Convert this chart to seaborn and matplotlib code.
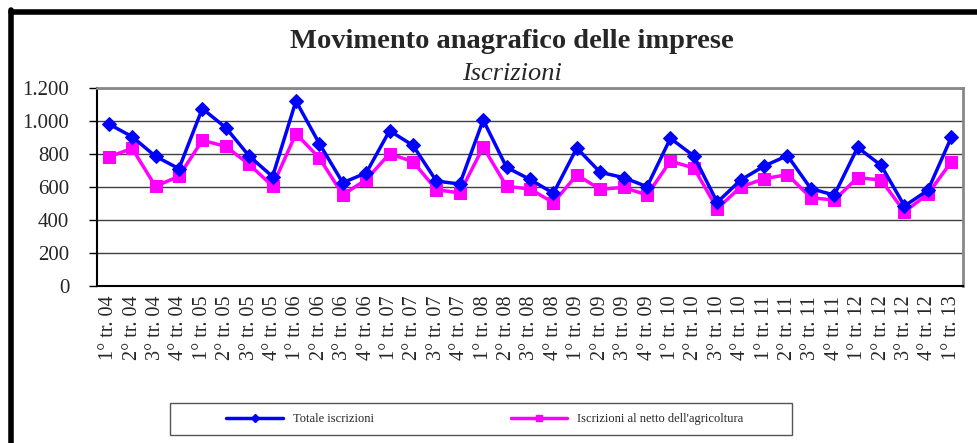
import matplotlib
matplotlib.use("Agg")
import matplotlib.pyplot as plt
from matplotlib.lines import Line2D
from matplotlib.patches import Rectangle
from matplotlib.ticker import FuncFormatter, FixedLocator
import seaborn as sns
import numpy as np
import pandas as pd

# Quarterly labels, 1° tr. 04 .. 1° tr. 13
quarters = [f"{q}° tr. {y:02d}" for y in range(4, 13) for q in range(1, 5)] + ["1° tr. 13"]

totale = [982, 905, 786, 711, 1075, 960, 788, 663, 1121, 863, 626, 685,
          941, 852, 636, 618, 1006, 719, 646, 562, 836, 689, 657, 602,
          895, 788, 507, 642, 727, 790, 590, 551, 840, 731, 485, 580, 901]
netto_agricoltura = [782, 834, 604, 665, 883, 846, 737, 606, 923, 776, 553, 644,
                     802, 753, 584, 564, 842, 604, 588, 505, 673, 586, 598, 551,
                     757, 715, 469, 600, 650, 675, 535, 521, 657, 642, 450, 557, 753]

df = pd.DataFrame({"pos": np.arange(len(quarters)),
                   "Totale iscrizioni": totale,
                   "Iscrizioni al netto dell'agricoltura": netto_agricoltura})

sns.set_style("white")
plt.rcParams["font.family"] = ["Liberation Serif", "DejaVu Serif"]

fig = plt.figure(figsize=(9.77, 4.43), dpi=100)
ax = fig.add_axes([97 / 977, 1 - 286 / 443, 866 / 977, 198 / 443])

sns.lineplot(data=df, x="pos", y="Totale iscrizioni", ax=ax, color="#0000FF",
             linewidth=2.5, marker="D", markersize=7, markeredgecolor="#0000FF",
             label="Totale iscrizioni", zorder=4)
sns.lineplot(data=df, x="pos", y="Iscrizioni al netto dell'agricoltura", ax=ax,
             color="#FF00FF", linewidth=2.5, marker="s", markersize=9,
             markeredgecolor="#FF00FF", label="Iscrizioni al netto dell'agricoltura",
             zorder=3)

ax.set_xlim(-0.5, len(quarters) - 0.5)
ax.set_ylim(0, 1200)
ax.set_yticks(np.arange(0, 1201, 200))
ax.yaxis.set_major_formatter(FuncFormatter(lambda v, p: f"{int(v):,}".replace(",", ".")))
ax.set_xticks(np.arange(len(quarters)))
ax.set_xticklabels(quarters, rotation=90)
ax.xaxis.set_minor_locator(FixedLocator(np.arange(-0.5, len(quarters), 1)))
ax.tick_params(axis="x", which="major", length=0, pad=7, labelsize=14.5)
ax.tick_params(axis="x", which="minor", length=5, width=1, color="black", direction="out")
ax.tick_params(axis="y", which="major", length=6, width=1, color="black",
               direction="out", pad=14, labelsize=15, left=True)
ax.set_xlabel("")
ax.set_ylabel("")

ax.yaxis.grid(True, color="#404040", linewidth=1)
ax.set_axisbelow(True)
for s in ["left", "bottom"]:
    ax.spines[s].set_color("black")
    ax.spines[s].set_linewidth(1.5)
for s in ["top", "right"]:
    ax.spines[s].set_color("#888888")
    ax.spines[s].set_linewidth(2)

ax.get_legend().remove()

# Titles
fig.text(512 / 977, 1 - 42 / 443, "Movimento anagrafico delle imprese",
         ha="center", va="center", fontsize=20.5, fontweight="bold")
fig.text(512 / 977, 1 - 74 / 443, "Iscrizioni", ha="center", va="center",
         fontsize=19, style="italic")

# Legend box and entries
fig.add_artist(Rectangle((170 / 977, 1 - 435 / 443), 622 / 977, 32 / 443,
                         transform=fig.transFigure, fill=False,
                         edgecolor="#555555", linewidth=1))
handles = [Line2D([], [], color="#0000FF", linewidth=2.5, marker="D", markersize=4),
           Line2D([], [], color="#FF00FF", linewidth=2.5, marker="s", markersize=5)]
fig.legend(handles, ["Totale iscrizioni", "Iscrizioni al netto dell'agricoltura"],
           loc="center", bbox_to_anchor=(485 / 977, 1 - 419 / 443), ncol=2,
           frameon=False, fontsize=9, handlelength=4.5, handletextpad=0.8,
           columnspacing=11)

# Outer frame (top and left edges)
fig.add_artist(Line2D([11 / 977, 1], [1 - 12 / 443, 1 - 12 / 443],
                      transform=fig.transFigure, color="black", linewidth=4))
fig.add_artist(Line2D([11 / 977, 11 / 977], [0, 1 - 10 / 443],
                      transform=fig.transFigure, color="black", linewidth=4))

fig.savefig("out.png", dpi=100)
